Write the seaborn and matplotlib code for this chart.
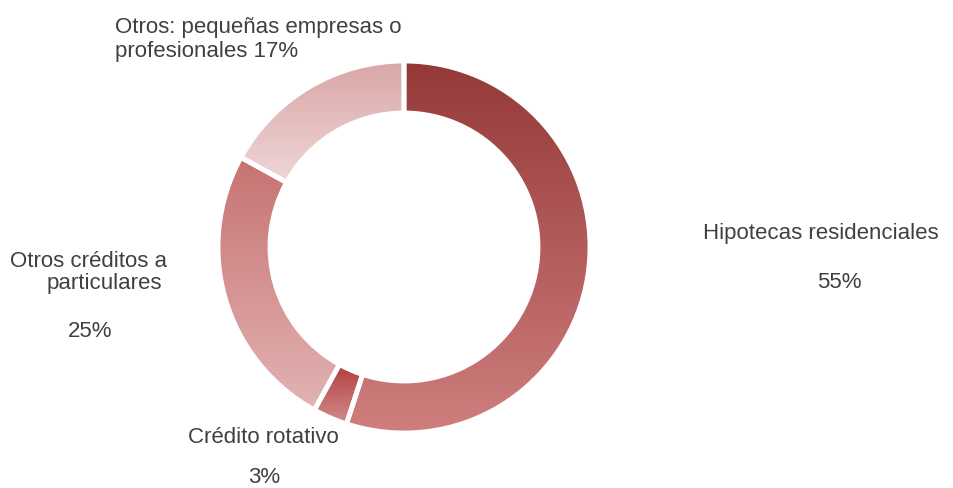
import numpy as np
import matplotlib
matplotlib.use("Agg")
import matplotlib.pyplot as plt
import seaborn as sns

# Loan portfolio breakdown
categories = [
    "Hipotecas residenciales",
    "Crédito rotativo",
    "Otros créditos a particulares",
    "Otros: pequeñas empresas o profesionales",
]
shares = [55, 3, 25, 17]

# Vertical gradient (top colour, bottom colour) for each segment
grad_top = ["#943938", "#b13e3f", "#c77272", "#d9a6a6"]
grad_bottom = ["#cf7e7e", "#d48c8c", "#e3b3b3", "#efd6d6"]

sns.set_theme(style="white")
plt.rcParams["font.family"] = ["Liberation Sans", "DejaVu Sans"]

W, H = 954, 489
fig = plt.figure(figsize=(W / 100, H / 100), dpi=100)
ax = fig.add_axes([0, 0, 1, 1])

cx, cy = 404, H - 248
R = 186

wedges, _ = ax.pie(
    shares,
    startangle=90,
    counterclock=False,
    radius=R,
    center=(cx, cy),
    frame=True,
    wedgeprops=dict(width=52, facecolor="none", edgecolor="white",
                    linewidth=3.5, zorder=3),
)

# Fill each wedge with its own vertical gradient
ramp = np.linspace(0, 1, 256).reshape(-1, 1)
for w, top, bot in zip(wedges, grad_top, grad_bottom):
    ext = w.get_path().get_extents()
    cmap = sns.blend_palette([top, bot], n_colors=256, as_cmap=True)
    im = ax.imshow(ramp, cmap=cmap, origin="upper", aspect="auto",
                   extent=(ext.x0, ext.x1, ext.y0, ext.y1), zorder=2,
                   interpolation="bilinear")
    im.set_clip_path(w)

ax.set_xlim(0, W)
ax.set_ylim(0, H)
ax.set_aspect("equal")
ax.axis("off")

txt = dict(fontsize=16, color="#404040", va="baseline", ha="left")


def label(x, y, s):
    ax.text(x, H - y, s, **txt)


label(703, 239, "Hipotecas residenciales")
label(817, 288, f"{shares[0]}%")
label(10, 267, "Otros créditos a")
label(47, 289, "particulares")
label(68, 337, f"{shares[2]}%")
label(115, 33, "Otros: pequeñas empresas o")
label(115, 57, f"profesionales {shares[3]}%")
label(188, 443, "Crédito rotativo")
label(248, 483, f"{shares[1]}%")

fig.savefig("out.png", dpi=100)
